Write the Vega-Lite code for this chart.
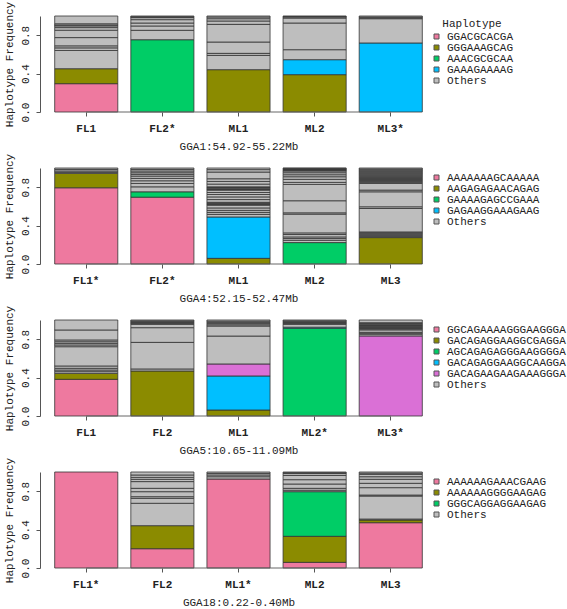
{
"$schema":"https://vega.github.io/schema/vega-lite/v6.json",
"padding":{"left":2,"top":1,"right":60,"bottom":0},
"background":"white",
"datasets":{
"p1":[
{"x":"FL1","h":"GGACGCACGA","f":0.295,"o":1},{"x":"FL1","h":"GGGAAAGCAG","f":0.156,"o":2},
{"x":"FL1","h":"Others","f":0.19,"o":3},{"x":"FL1","h":"Others","f":0.027,"o":4},{"x":"FL1","h":"Others","f":0.021,"o":5},{"x":"FL1","h":"Others","f":0.086,"o":6},{"x":"FL1","h":"Others","f":0.077,"o":7},{"x":"FL1","h":"Others","f":0.027,"o":8},{"x":"FL1","h":"Others","f":0.018,"o":9},{"x":"FL1","h":"Others","f":0.009,"o":10},{"x":"FL1","h":"Others","f":0.013,"o":11},{"x":"FL1","h":"Others","f":0.081,"o":12},
{"x":"FL2*","h":"AAACGCGCAA","f":0.753,"o":1},
{"x":"FL2*","h":"Others","f":0.098,"o":2},{"x":"FL2*","h":"Others","f":0.045,"o":3},{"x":"FL2*","h":"Others","f":0.031,"o":4},{"x":"FL2*","h":"Others","f":0.035,"o":5},{"x":"FL2*","h":"Others","f":0.021,"o":6},{"x":"FL2*","h":"Others","f":0.005,"o":7},{"x":"FL2*","h":"Others","f":0.005,"o":8},{"x":"FL2*","h":"Others","f":0.007,"o":9},
{"x":"ML1","h":"GGGAAAGCAG","f":0.441,"o":1},
{"x":"ML1","h":"Others","f":0.149,"o":2},{"x":"ML1","h":"Others","f":0.021,"o":3},{"x":"ML1","h":"Others","f":0.118,"o":4},{"x":"ML1","h":"Others","f":0.184,"o":5},{"x":"ML1","h":"Others","f":0.035,"o":6},{"x":"ML1","h":"Others","f":0.024,"o":7},{"x":"ML1","h":"Others","f":0.018,"o":8},{"x":"ML1","h":"Others","f":0.01,"o":9},
{"x":"ML2","h":"GGGAAAGCAG","f":0.389,"o":1},{"x":"ML2","h":"GAAAGAAAAG","f":0.156,"o":2},
{"x":"ML2","h":"Others","f":0.104,"o":3},{"x":"ML2","h":"Others","f":0.278,"o":4},{"x":"ML2","h":"Others","f":0.052,"o":5},{"x":"ML2","h":"Others","f":0.011,"o":6},{"x":"ML2","h":"Others","f":0.005,"o":7},{"x":"ML2","h":"Others","f":0.005,"o":8},
{"x":"ML3*","h":"GAAAGAAAAG","f":0.719,"o":1},
{"x":"ML3*","h":"Others","f":0.253,"o":2},{"x":"ML3*","h":"Others","f":0.009,"o":3},{"x":"ML3*","h":"Others","f":0.009,"o":4},{"x":"ML3*","h":"Others","f":0.01,"o":5}
],
"p2":[
{"x":"FL1*","h":"AAAAAAAGCAAAAA","f":0.794,"o":1},{"x":"FL1*","h":"AAGAGAGAACAGAG","f":0.15,"o":2},
{"x":"FL1*","h":"Others","f":0.011,"o":3},{"x":"FL1*","h":"Others","f":0.014,"o":4},{"x":"FL1*","h":"Others","f":0.017,"o":5},{"x":"FL1*","h":"Others","f":0.014,"o":6},
{"x":"FL2*","h":"AAAAAAAGCAAAAA","f":0.696,"o":1},{"x":"FL2*","h":"GAAAAGAGCCGAAA","f":0.056,"o":2},
{"x":"FL2*","h":"Others","f":0.052,"o":3},{"x":"FL2*","h":"Others","f":0.035,"o":4},{"x":"FL2*","h":"Others","f":0.028,"o":5},{"x":"FL2*","h":"Others","f":0.025,"o":6},{"x":"FL2*","h":"Others","f":0.024,"o":7},{"x":"FL2*","h":"Others","f":0.018,"o":8},{"x":"FL2*","h":"Others","f":0.017,"o":9},{"x":"FL2*","h":"Others","f":0.018,"o":10},{"x":"FL2*","h":"Others","f":0.017,"o":11},{"x":"FL2*","h":"Others","f":0.014,"o":12},
{"x":"ML1","h":"AAGAGAGAACAGAG","f":0.059,"o":1},{"x":"ML1","h":"GAGAAGGAAAGAAG","f":0.431,"o":2},
{"x":"ML1","h":"Others","f":0.027,"o":3},{"x":"ML1","h":"Others","f":0.021,"o":4},{"x":"ML1","h":"Others","f":0.021,"o":5},{"x":"ML1","h":"Others","f":0.025,"o":6},{"x":"ML1","h":"Others","f":0.028,"o":7},{"x":"ML1","h":"Others","f":0.008,"o":8},{"x":"ML1","h":"Others","f":0.008,"o":9},{"x":"ML1","h":"Others","f":0.008,"o":10},{"x":"ML1","h":"Others","f":0.007,"o":11},{"x":"ML1","h":"Others","f":0.028,"o":12},{"x":"ML1","h":"Others","f":0.028,"o":13},{"x":"ML1","h":"Others","f":0.025,"o":14},{"x":"ML1","h":"Others","f":0.021,"o":15},{"x":"ML1","h":"Others","f":0.024,"o":16},{"x":"ML1","h":"Others","f":0.007,"o":17},{"x":"ML1","h":"Others","f":0.007,"o":18},{"x":"ML1","h":"Others","f":0.007,"o":19},{"x":"ML1","h":"Others","f":0.007,"o":20},{"x":"ML1","h":"Others","f":0.007,"o":21},{"x":"ML1","h":"Others","f":0.028,"o":22},{"x":"ML1","h":"Others","f":0.028,"o":23},{"x":"ML1","h":"Others","f":0.028,"o":24},{"x":"ML1","h":"Others","f":0.07,"o":25},{"x":"ML1","h":"Others","f":0.025,"o":26},{"x":"ML1","h":"Others","f":0.017,"o":27},
{"x":"ML2","h":"GAAAAGAGCCGAAA","f":0.223,"o":1},
{"x":"ML2","h":"Others","f":0.024,"o":2},{"x":"ML2","h":"Others","f":0.018,"o":3},{"x":"ML2","h":"Others","f":0.017,"o":4},{"x":"ML2","h":"Others","f":0.025,"o":5},{"x":"ML2","h":"Others","f":0.017,"o":6},{"x":"ML2","h":"Others","f":0.195,"o":7},{"x":"ML2","h":"Others","f":0.014,"o":8},{"x":"ML2","h":"Others","f":0.126,"o":9},{"x":"ML2","h":"Others","f":0.17,"o":10},{"x":"ML2","h":"Others","f":0.021,"o":11},{"x":"ML2","h":"Others","f":0.032,"o":12},{"x":"ML2","h":"Others","f":0.027,"o":13},{"x":"ML2","h":"Others","f":0.021,"o":14},{"x":"ML2","h":"Others","f":0.021,"o":15},{"x":"ML2","h":"Others","f":0.018,"o":16},{"x":"ML2","h":"Others","f":0.006,"o":17},{"x":"ML2","h":"Others","f":0.006,"o":18},{"x":"ML2","h":"Others","f":0.005,"o":19},{"x":"ML2","h":"Others","f":0.005,"o":20},{"x":"ML2","h":"Others","f":0.005,"o":21},{"x":"ML2","h":"Others","f":0.004,"o":22},
{"x":"ML3","h":"AAGAGAGAACAGAG","f":0.275,"o":1},
{"x":"ML3","h":"Others","f":0.01,"o":2},{"x":"ML3","h":"Others","f":0.01,"o":3},{"x":"ML3","h":"Others","f":0.01,"o":4},{"x":"ML3","h":"Others","f":0.01,"o":5},{"x":"ML3","h":"Others","f":0.01,"o":6},{"x":"ML3","h":"Others","f":0.009,"o":7},{"x":"ML3","h":"Others","f":0.244,"o":8},{"x":"ML3","h":"Others","f":0.018,"o":9},{"x":"ML3","h":"Others","f":0.156,"o":10},{"x":"ML3","h":"Others","f":0.018,"o":11},{"x":"ML3","h":"Others","f":0.07,"o":12},
{"x":"ML3","h":"Others","f":0.01,"o":13},{"x":"ML3","h":"Others","f":0.01,"o":14},{"x":"ML3","h":"Others","f":0.01,"o":15},{"x":"ML3","h":"Others","f":0.01,"o":16},{"x":"ML3","h":"Others","f":0.01,"o":17},{"x":"ML3","h":"Others","f":0.01,"o":18},{"x":"ML3","h":"Others","f":0.01,"o":19},{"x":"ML3","h":"Others","f":0.01,"o":20},{"x":"ML3","h":"Others","f":0.01,"o":21},{"x":"ML3","h":"Others","f":0.01,"o":22},
{"x":"ML3","h":"Others","f":0.01,"o":23},{"x":"ML3","h":"Others","f":0.01,"o":24},{"x":"ML3","h":"Others","f":0.01,"o":25},{"x":"ML3","h":"Others","f":0.01,"o":26},{"x":"ML3","h":"Others","f":0.01,"o":27},{"x":"ML3","h":"Others","f":0.01,"o":28}
],
"p3":[
{"x":"FL1","h":"GGCAGAAAAGGGAAGGGA","f":0.382,"o":1},{"x":"FL1","h":"GACAGAGGAAGGCGAGGA","f":0.062,"o":2},
{"x":"FL1","h":"Others","f":0.018,"o":3},{"x":"FL1","h":"Others","f":0.017,"o":4},{"x":"FL1","h":"Others","f":0.018,"o":5},{"x":"FL1","h":"Others","f":0.024,"o":6},{"x":"FL1","h":"Others","f":0.201,"o":7},{"x":"FL1","h":"Others","f":0.018,"o":8},{"x":"FL1","h":"Others","f":0.017,"o":9},{"x":"FL1","h":"Others","f":0.017,"o":10},{"x":"FL1","h":"Others","f":0.018,"o":11},{"x":"FL1","h":"Others","f":0.104,"o":12},{"x":"FL1","h":"Others","f":0.104,"o":13},
{"x":"FL2","h":"GACAGAGGAAGGCGAGGA","f":0.469,"o":1},
{"x":"FL2","h":"Others","f":0.021,"o":2},{"x":"FL2","h":"Others","f":0.277,"o":3},{"x":"FL2","h":"Others","f":0.153,"o":4},{"x":"FL2","h":"Others","f":0.035,"o":5},{"x":"FL2","h":"Others","f":0.009,"o":6},{"x":"FL2","h":"Others","f":0.009,"o":7},{"x":"FL2","h":"Others","f":0.009,"o":8},{"x":"FL2","h":"Others","f":0.009,"o":9},{"x":"FL2","h":"Others","f":0.009,"o":10},
{"x":"ML1","h":"GACAGAGGAAGGCGAGGA","f":0.0625,"o":1},{"x":"ML1","h":"GACAGAGGAAGGCAAGGA","f":0.3545,"o":2},{"x":"ML1","h":"GACAGAAGAAGAAAGGGA","f":0.125,"o":3},
{"x":"ML1","h":"Others","f":0.291,"o":4},{"x":"ML1","h":"Others","f":0.1045,"o":5},{"x":"ML1","h":"Others","f":0.0125,"o":6},{"x":"ML1","h":"Others","f":0.0125,"o":7},{"x":"ML1","h":"Others","f":0.0125,"o":8},{"x":"ML1","h":"Others","f":0.0125,"o":9},{"x":"ML1","h":"Others","f":0.0125,"o":10},
{"x":"ML2*","h":"AGCAGAGAGGGAAGGGGA","f":0.914,"o":1},{"x":"ML2*","h":"GACAGAGGAAGGCAAGGA","f":0.011,"o":2},
{"x":"ML2*","h":"Others","f":0.03,"o":3},{"x":"ML2*","h":"Others","f":0.01,"o":4},{"x":"ML2*","h":"Others","f":0.008,"o":5},{"x":"ML2*","h":"Others","f":0.009,"o":6},{"x":"ML2*","h":"Others","f":0.009,"o":7},{"x":"ML2*","h":"Others","f":0.009,"o":8},
{"x":"ML3*","h":"GACAGAAGAAGAAAGGGA","f":0.834,"o":1},
{"x":"ML3*","h":"Others","f":0.018,"o":2},{"x":"ML3*","h":"Others","f":0.01,"o":3},{"x":"ML3*","h":"Others","f":0.01,"o":4},{"x":"ML3*","h":"Others","f":0.025,"o":5},
{"x":"ML3*","h":"Others","f":0.0075,"o":6},{"x":"ML3*","h":"Others","f":0.0075,"o":7},{"x":"ML3*","h":"Others","f":0.0075,"o":8},{"x":"ML3*","h":"Others","f":0.0075,"o":9},{"x":"ML3*","h":"Others","f":0.0075,"o":10},{"x":"ML3*","h":"Others","f":0.0075,"o":11},{"x":"ML3*","h":"Others","f":0.0075,"o":12},{"x":"ML3*","h":"Others","f":0.0075,"o":13},{"x":"ML3*","h":"Others","f":0.0075,"o":14},{"x":"ML3*","h":"Others","f":0.0075,"o":15},
{"x":"ML3*","h":"Others","f":0.028,"o":16}
],
"p4":[
{"x":"FL1*","h":"AAAAAAGAAACGAAG","f":1.0,"o":1},
{"x":"FL2","h":"AAAAAAGAAACGAAG","f":0.201,"o":1},{"x":"FL2","h":"AAAAAAGGGGAAGAG","f":0.24,"o":2},
{"x":"FL2","h":"Others","f":0.233,"o":3},{"x":"FL2","h":"Others","f":0.052,"o":4},{"x":"FL2","h":"Others","f":0.017,"o":5},{"x":"FL2","h":"Others","f":0.052,"o":6},{"x":"FL2","h":"Others","f":0.035,"o":7},{"x":"FL2","h":"Others","f":0.07,"o":8},{"x":"FL2","h":"Others","f":0.024,"o":9},{"x":"FL2","h":"Others","f":0.02,"o":10},{"x":"FL2","h":"Others","f":0.025,"o":11},{"x":"FL2","h":"Others","f":0.031,"o":12},
{"x":"ML1*","h":"AAAAAAGAAACGAAG","f":0.927,"o":1},
{"x":"ML1*","h":"Others","f":0.024,"o":2},{"x":"ML1*","h":"Others","f":0.018,"o":3},{"x":"ML1*","h":"Others","f":0.017,"o":4},{"x":"ML1*","h":"Others","f":0.014,"o":5},
{"x":"ML2","h":"AAAAAAGAAACGAAG","f":0.059,"o":1},{"x":"ML2","h":"AAAAAAGGGGAAGAG","f":0.271,"o":2},{"x":"ML2","h":"GGGCAGGAGGAAGAG","f":0.465,"o":3},
{"x":"ML2","h":"Others","f":0.015,"o":4},{"x":"ML2","h":"Others","f":0.02,"o":5},{"x":"ML2","h":"Others","f":0.045,"o":6},{"x":"ML2","h":"Others","f":0.045,"o":7},{"x":"ML2","h":"Others","f":0.045,"o":8},{"x":"ML2","h":"Others","f":0.02,"o":9},{"x":"ML2","h":"Others","f":0.008,"o":10},{"x":"ML2","h":"Others","f":0.007,"o":11},
{"x":"ML3","h":"AAAAAAGAAACGAAG","f":0.472,"o":1},{"x":"ML3","h":"AAAAAAGGGGAAGAG","f":0.028,"o":2},
{"x":"ML3","h":"Others","f":0.01,"o":3},{"x":"ML3","h":"Others","f":0.24,"o":4},{"x":"ML3","h":"Others","f":0.01,"o":5},{"x":"ML3","h":"Others","f":0.077,"o":6},{"x":"ML3","h":"Others","f":0.045,"o":7},{"x":"ML3","h":"Others","f":0.042,"o":8},{"x":"ML3","h":"Others","f":0.027,"o":9},{"x":"ML3","h":"Others","f":0.025,"o":10},{"x":"ML3","h":"Others","f":0.012,"o":11},{"x":"ML3","h":"Others","f":0.012,"o":12}
]
},
"bounds":"flush",
"spacing":56,
"resolve":{"scale":{"color":"independent","x":"independent","y":"independent"},"legend":{"color":"independent"},"axis":{"x":"independent","y":"independent"}},
"vconcat":[
{"width":397,"height":96,
 "layer":[
  {"data":{"name":"p1"},"mark":{"type":"bar","stroke":"#333333","strokeWidth":0.8},
   "encoding":{
    "x":{"field":"x","type":"nominal","scale":{"domain":["FL1","FL2*","ML1","ML2","ML3*"],"paddingInner":0.171,"paddingOuter":0.193},"axis":{"title":"GGA1:54.92-55.22Mb"}},
    "y":{"field":"f","type":"quantitative","stack":"zero","scale":{"domain":[0,1],"nice":false},"axis":{"values":[0,0.2,0.4,0.6,0.8,1],"labelExpr":"(datum.value==0.2||datum.value==0.6||datum.value==1)?'':format(datum.value,'.1f')","title":"Haplotype Frequency"}},
    "color":{"field":"h","type":"nominal","scale":{"domain":["GGACGCACGA","GGGAAAGCAG","AAACGCGCAA","GAAAGAAAAG","Others"],"range":["#EE799F","#8B8B00","#00CD66","#00BFFF","#BEBEBE"]},"legend":{"title":"Haplotype","orient":"none","legendX":391,"legendY":2}},
    "order":{"field":"o","type":"quantitative"}}},
  {"data":{"values":[{"a":"FL1","b":"ML3*"}]},"mark":{"type":"rule","color":"#666666","strokeWidth":1},
   "encoding":{"x":{"field":"a","type":"nominal"},"x2":{"field":"b"},"y":{"datum":0}}}
 ]},
{"width":397,"height":96,
 "layer":[
  {"data":{"name":"p2"},"mark":{"type":"bar","stroke":"#333333","strokeWidth":0.8},
   "encoding":{
    "x":{"field":"x","type":"nominal","scale":{"domain":["FL1*","FL2*","ML1","ML2","ML3"],"paddingInner":0.171,"paddingOuter":0.193},"axis":{"title":"GGA4:52.15-52.47Mb"}},
    "y":{"field":"f","type":"quantitative","stack":"zero","scale":{"domain":[0,1],"nice":false},"axis":{"values":[0,0.2,0.4,0.6,0.8,1],"labelExpr":"(datum.value==0.2||datum.value==0.6||datum.value==1)?'':format(datum.value,'.1f')","title":"Haplotype Frequency"}},
    "color":{"field":"h","type":"nominal","scale":{"domain":["AAAAAAAGCAAAAA","AAGAGAGAACAGAG","GAAAAGAGCCGAAA","GAGAAGGAAAGAAG","Others"],"range":["#EE799F","#8B8B00","#00CD66","#00BFFF","#BEBEBE"]},"legend":{"title":null,"orient":"none","legendX":391,"legendY":4}},
    "order":{"field":"o","type":"quantitative"}}},
  {"data":{"values":[{"a":"FL1*","b":"ML3"}]},"mark":{"type":"rule","color":"#666666","strokeWidth":1},
   "encoding":{"x":{"field":"a","type":"nominal"},"x2":{"field":"b"},"y":{"datum":0}}}
 ]},
{"width":397,"height":96,
 "layer":[
  {"data":{"name":"p3"},"mark":{"type":"bar","stroke":"#333333","strokeWidth":0.8},
   "encoding":{
    "x":{"field":"x","type":"nominal","scale":{"domain":["FL1","FL2","ML1","ML2*","ML3*"],"paddingInner":0.171,"paddingOuter":0.193},"axis":{"title":"GGA5:10.65-11.09Mb"}},
    "y":{"field":"f","type":"quantitative","stack":"zero","scale":{"domain":[0,1],"nice":false},"axis":{"values":[0,0.2,0.4,0.6,0.8,1],"labelExpr":"(datum.value==0.2||datum.value==0.6||datum.value==1)?'':format(datum.value,'.1f')","title":"Haplotype Frequency"}},
    "color":{"field":"h","type":"nominal","scale":{"domain":["GGCAGAAAAGGGAAGGGA","GACAGAGGAAGGCGAGGA","AGCAGAGAGGGAAGGGGA","GACAGAGGAAGGCAAGGA","GACAGAAGAAGAAAGGGA","Others"],"range":["#EE799F","#8B8B00","#00CD66","#00BFFF","#DA70D6","#BEBEBE"]},"legend":{"title":null,"orient":"none","legendX":391,"legendY":4}},
    "order":{"field":"o","type":"quantitative"}}},
  {"data":{"values":[{"a":"FL1","b":"ML3*"}]},"mark":{"type":"rule","color":"#666666","strokeWidth":1},
   "encoding":{"x":{"field":"a","type":"nominal"},"x2":{"field":"b"},"y":{"datum":0}}}
 ]},
{"width":397,"height":96,
 "layer":[
  {"data":{"name":"p4"},"mark":{"type":"bar","stroke":"#333333","strokeWidth":0.8},
   "encoding":{
    "x":{"field":"x","type":"nominal","scale":{"domain":["FL1*","FL2","ML1*","ML2","ML3"],"paddingInner":0.171,"paddingOuter":0.193},"axis":{"title":"GGA18:0.22-0.40Mb"}},
    "y":{"field":"f","type":"quantitative","stack":"zero","scale":{"domain":[0,1],"nice":false},"axis":{"values":[0,0.2,0.4,0.6,0.8,1],"labelExpr":"(datum.value==0.2||datum.value==0.6||datum.value==1)?'':format(datum.value,'.1f')","title":"Haplotype Frequency"}},
    "color":{"field":"h","type":"nominal","scale":{"domain":["AAAAAAGAAACGAAG","AAAAAAGGGGAAGAG","GGGCAGGAGGAAGAG","Others"],"range":["#EE799F","#8B8B00","#00CD66","#BEBEBE"]},"legend":{"title":null,"orient":"none","legendX":391,"legendY":4}},
    "order":{"field":"o","type":"quantitative"}}},
  {"data":{"values":[{"a":"FL1*","b":"ML3"}]},"mark":{"type":"rule","color":"#666666","strokeWidth":1},
   "encoding":{"x":{"field":"a","type":"nominal"},"x2":{"field":"b"},"y":{"datum":0}}}
 ]}
],
"config":{
 "view":{"stroke":null},
 "font":"Liberation Mono",
 "axis":{"labelFont":"Liberation Mono","titleFont":"Liberation Mono","labelFontSize":11,"titleFontSize":11,"titleFontWeight":"normal","labelColor":"#222222","titleColor":"#222222","domainColor":"#555555","tickColor":"#555555","grid":false,"tickSize":4},
 "axisX":{"labelAngle":0,"labelFontWeight":"bold","domain":false,"labelPadding":6,"titlePadding":7},
 "axisY":{"labelAngle":-90,"labelAlign":"center","labelBaseline":"alphabetic","labelPadding":8,"titlePadding":5},
 "legend":{"labelFont":"Liberation Mono","titleFont":"Liberation Mono","labelFontSize":11,"titleFontSize":11,"titleFontWeight":"normal","labelColor":"#222222","titleColor":"#222222","symbolType":"square","symbolSize":25,"symbolStrokeColor":"#555555","symbolStrokeWidth":1,"symbolOpacity":1,"rowPadding":-2,"labelOffset":5,"titlePadding":2,"titleAnchor":"middle"}
}
}
